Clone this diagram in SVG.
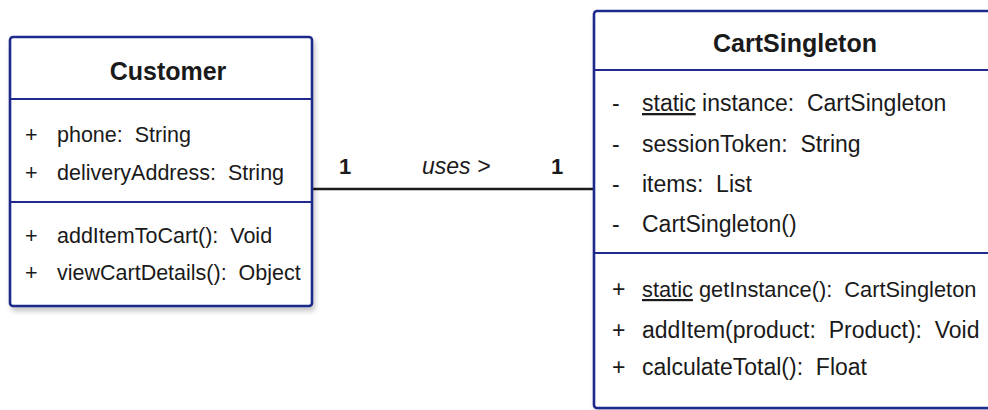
<svg xmlns="http://www.w3.org/2000/svg" width="988" height="410" viewBox="0 0 988 410">
<style>
.box{fill:#ffffff;stroke:#1f2a8c;stroke-width:2.6}
.div{stroke:#1f2a8c;stroke-width:2.2}
.t{font-family:"Liberation Sans",Arial,sans-serif;font-size:21.5px;fill:#1a1a1a}
.t2{font-family:"Liberation Sans",Arial,sans-serif;font-size:23px;fill:#1a1a1a}
.h{font-family:"Liberation Sans",Arial,sans-serif;font-size:25px;font-weight:bold;fill:#1a1a1a;text-anchor:middle}
.m{font-family:"Liberation Sans",Arial,sans-serif;font-size:22px;font-weight:bold;fill:#1a1a1a}
.u{text-decoration:underline}
.c{stroke:#1a1a1a;stroke-width:2.6;fill:none}
</style>
<defs>
<filter id="sh" x="-10%" y="-10%" width="120%" height="120%">
<feDropShadow dx="2" dy="4" stdDeviation="2.5" flood-color="#000" flood-opacity="0.22"/>
</filter>
</defs>
<rect width="988" height="410" fill="#ffffff"/>
<g id="connectors">
<line class="c" x1="312" y1="189" x2="594" y2="189"/>
<text class="m" x="339" y="174">1</text>
<text class="t2" x="422" y="174" font-style="italic">uses &gt;</text>
<text class="m" x="551" y="174">1</text>
</g>
<g id="customer">
<rect class="box" x="10" y="37" width="302" height="269" rx="3" filter="url(#sh)"/>
<line class="div" x1="10" y1="99" x2="312" y2="99"/>
<line class="div" x1="10" y1="202" x2="312" y2="202"/>
<text class="h" x="168" y="80">Customer</text>
<text class="t" x="25" y="142">+</text>
<text class="t" x="57" y="142" xml:space="preserve">phone:  String</text>
<text class="t" x="25" y="180">+</text>
<text class="t" x="57" y="180" xml:space="preserve">deliveryAddress:  String</text>
<text class="t" x="25" y="243">+</text>
<text class="t" x="57" y="243" xml:space="preserve">addItemToCart():  Void</text>
<text class="t" x="25" y="280">+</text>
<text class="t" x="57" y="280" xml:space="preserve">viewCartDetails():  Object</text>
</g>
<g id="cartsingleton">
<rect class="box" x="594" y="11" width="410" height="397" rx="3" filter="url(#sh)"/>
<line class="div" x1="594" y1="70" x2="988" y2="70"/>
<line class="div" x1="594" y1="253" x2="988" y2="253"/>
<text class="h" x="795" y="52">CartSingleton</text>
<text class="t2" x="612" y="111">-</text>
<text class="t2" x="642" y="111" xml:space="preserve"><tspan class="u">static</tspan> instance:  CartSingleton</text>
<text class="t2" x="612" y="152">-</text>
<text class="t2" x="642" y="152" xml:space="preserve">sessionToken:  String</text>
<text class="t2" x="612" y="192">-</text>
<text class="t2" x="642" y="192" xml:space="preserve">items:  List</text>
<text class="t2" x="612" y="232">-</text>
<text class="t2" x="642" y="232">CartSingleton()</text>
<text class="t2" x="612" y="297">+</text>
<text class="t2" x="642" y="297" xml:space="preserve" style="font-size:21.8px"><tspan class="u">static</tspan> getInstance():  CartSingleton</text>
<text class="t2" x="612" y="338">+</text>
<text class="t2" x="642" y="338" xml:space="preserve">addItem(product:  Product):  Void</text>
<text class="t2" x="612" y="375">+</text>
<text class="t2" x="642" y="375" xml:space="preserve">calculateTotal():  Float</text>
</g>
</svg>
